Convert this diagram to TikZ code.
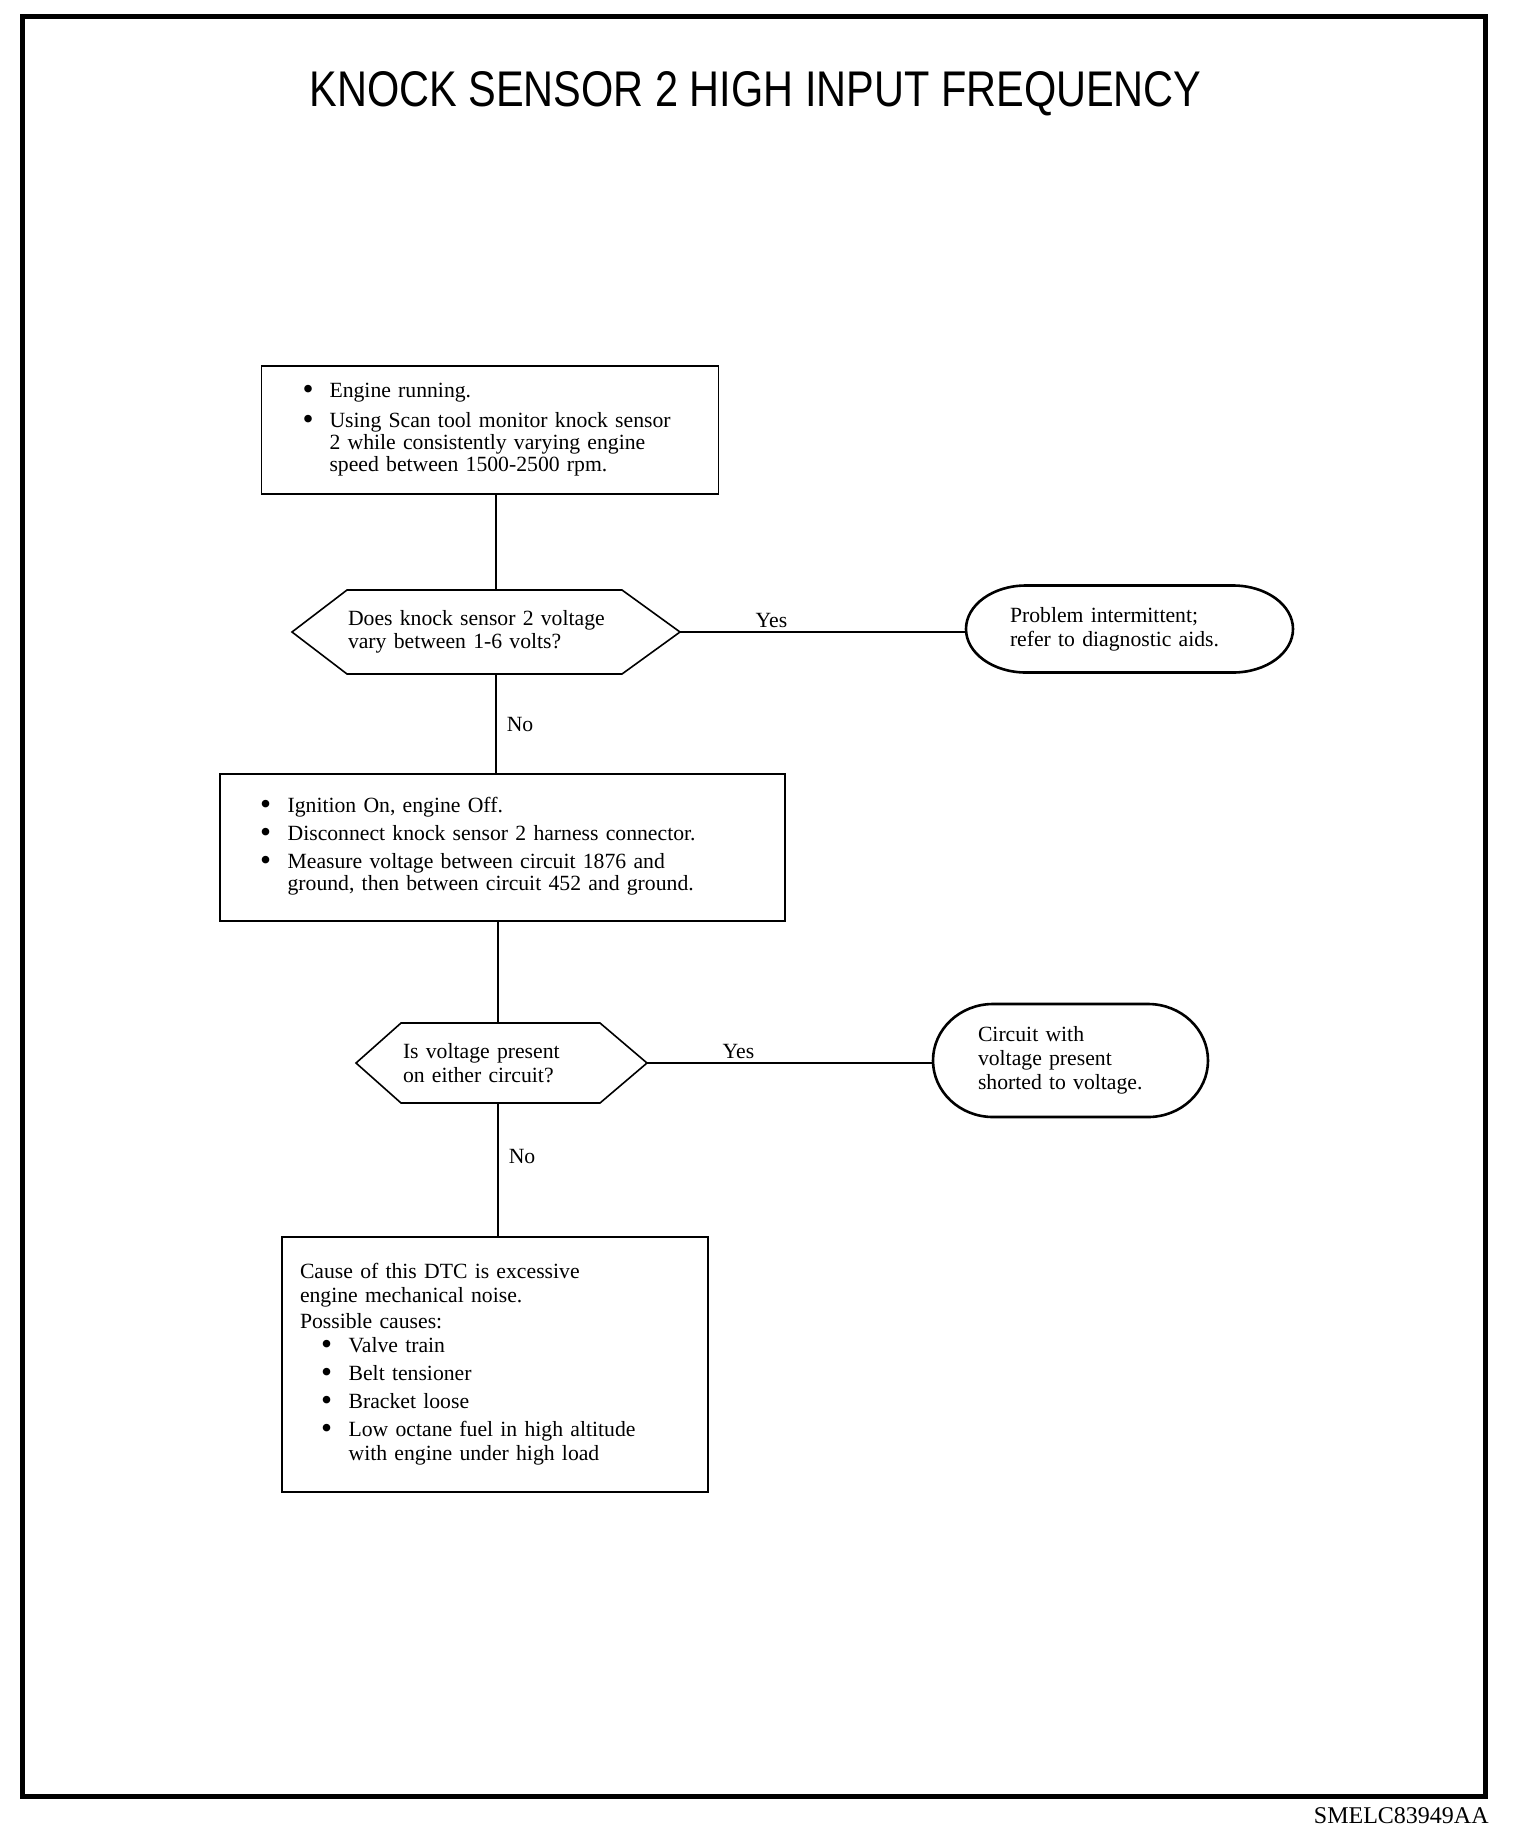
\documentclass[tikz,border=0pt]{standalone}
\usepackage{fontspec}
\setmainfont{Liberation Serif}
\newfontfamily\titlefont{Liberation Sans}
\setlength{\parindent}{0pt}
\newcommand{\mybul}{\raisebox{-0.9pt}{\scalebox{1.45}{\textbullet}}}
\begin{document}
\begin{tikzpicture}[x=0.5pt,y=-0.5pt,
  box/.style={draw, line width=0.8pt, rectangle, outer sep=0pt, inner ysep=0pt, align=left},
  hexa/.style={rectangle, outer sep=0pt, inner ysep=0pt, align=left, font=\fontsize{10.85}{11.8}\selectfont},
  hexline/.style={draw, line width=0.8pt, line join=miter},
  term/.style={rectangle, outer sep=0pt, inner ysep=0pt, align=left, font=\fontsize{10.85}{12}\selectfont},
  termline/.style={draw, line width=1.3pt},
  conn/.style={draw, line width=0.75pt},
  lbl/.style={font=\fontsize{10.85}{12}\selectfont, inner sep=2pt}
]
\useasboundingbox (0,0) rectangle (1520,1842);
% outer frame
\node[draw, line width=2.5pt, rectangle, minimum width=731.5pt, minimum height=890pt, outer sep=0pt, inner sep=0pt] (frame) at (754,906.5) {};
% title
\node[anchor=base, inner sep=0pt] (title) at (755.5,106) {\resizebox{446pt}{17.5pt}{\titlefont KNOCK SENSOR 2 HIGH INPUT FREQUENCY}};
\node[anchor=base east, inner sep=0pt, font=\fontsize{12}{12}\selectfont] (code) at (1489,1823) {SMELC83949AA};

% box 1
\node[box, minimum width=228.5pt, minimum height=64pt, inner xsep=20.5pt, text width=187.5pt, font=\fontsize{10.85}{11}\selectfont] (box1) at (490,430) {%
\begin{tabular}{@{}l@{\hspace{8pt}}l@{}}
\mybul & Engine running.\\[4pt]
\mybul & Using Scan tool monitor knock sensor\\
 & 2 while consistently varying engine\\
 & speed between 1500-2500 rpm.
\end{tabular}};

% decision 1
\node[hexa, minimum width=194pt, minimum height=42pt, inner xsep=28pt, text width=138pt] (d1) at (486,632) {Does knock sensor 2 voltage\\vary between 1-6 volts?};
\draw[hexline] (d1.west) -- ([xshift=27.5pt]d1.north west) -- ([xshift=-29pt]d1.north east) -- (d1.east) -- ([xshift=-29pt]d1.south east) -- ([xshift=27.5pt]d1.south west) -- cycle;

% terminal 1
\node[term, minimum width=163.5pt, minimum height=43.5pt, inner xsep=22pt, text width=119.5pt] (t1) at (1129.5,629) {Problem intermittent;\\refer to diagnostic aids.};
\draw[termline] ([xshift=30pt]t1.north west) -- ([xshift=-30pt]t1.north east)
  arc[start angle=90, end angle=-90, x radius=30pt, y radius=21.75pt]
  -- ([xshift=30pt]t1.south west)
  arc[start angle=270, end angle=90, x radius=30pt, y radius=21.75pt] -- cycle;

% box 2
\node[box, minimum width=282.5pt, minimum height=73.5pt, inner xsep=20pt, text width=242.5pt, font=\fontsize{10.85}{11}\selectfont] (box2) at (502.5,847.5) {%
\begin{tabular}{@{}l@{\hspace{8.3pt}}l@{}}
\mybul & Ignition On, engine Off.\\[3pt]
\mybul & Disconnect knock sensor 2 harness connector.\\[3pt]
\mybul & Measure voltage between circuit 1876 and\\
 & ground, then between circuit 452 and ground.
\end{tabular}};

% decision 2
\node[hexa, font=\fontsize{10.85}{12}\selectfont, minimum width=145.5pt, minimum height=40pt, inner xsep=23.5pt, text width=98.5pt] (d2) at (501.5,1063) {Is voltage present\\on either circuit?};
\draw[hexline] (d2.west) -- ([xshift=22.5pt]d2.north west) -- ([xshift=-23.5pt]d2.north east) -- (d2.east) -- ([xshift=-23.5pt]d2.south east) -- ([xshift=22.5pt]d2.south west) -- cycle;

% terminal 2
\node[term, minimum width=137.5pt, minimum height=56.5pt, inner xsep=22.5pt, text width=92.5pt] (t2) at (1070.5,1060.5) {Circuit with\\voltage present\\shorted to voltage.};
\draw[termline] ([xshift=30pt]t2.north west) -- ([xshift=-30pt]t2.north east)
  arc[start angle=90, end angle=-90, x radius=30pt, y radius=28.25pt]
  -- ([xshift=30pt]t2.south west)
  arc[start angle=270, end angle=90, x radius=30pt, y radius=28.25pt] -- cycle;

% box 3
\node[box, minimum width=213pt, minimum height=127.5pt, inner xsep=9pt, text width=195pt, font=\fontsize{10.85}{12}\selectfont] (box3) at (495,1364.5) {%
\begin{tabular}{@{\hspace{10.5pt}}l@{\hspace{8.3pt}}l@{}}
\multicolumn{2}{@{}l@{}}{Cause of this DTC is excessive}\\
\multicolumn{2}{@{}l@{}}{engine mechanical noise.}\\[1pt]
\multicolumn{2}{@{}l@{}}{Possible causes:}\\
\mybul & Valve train\\[2pt]
\mybul & Belt tensioner\\[2pt]
\mybul & Bracket loose\\[2pt]
\mybul & Low octane fuel in high altitude\\
 & with engine under high load
\end{tabular}};

% connectors
\coordinate (v1) at (496,0);
\coordinate (v2) at (498,0);
\draw[conn] (box1.south -| v1) -- (d1.north -| v1);
\draw[conn] (d1.south -| v1) -- node[lbl, pos=0.5, right=3pt] (no1) {No} (box2.north -| v1);
\draw[conn] (d1.east) -- node[lbl, pos=0.32, above=0pt] (yes1) {Yes} (d1.east -| t1.west);
\draw[conn] (box2.south -| v2) -- (d2.north -| v2);
\draw[conn] (d2.south -| v2) -- node[lbl, pos=0.4, right=3pt] (no2) {No} (box3.north -| v2);
\draw[conn] (d2.east) -- node[lbl, pos=0.32, above=0pt] (yes2) {Yes} (d2.east -| t2.west);
\end{tikzpicture}
\end{document}
